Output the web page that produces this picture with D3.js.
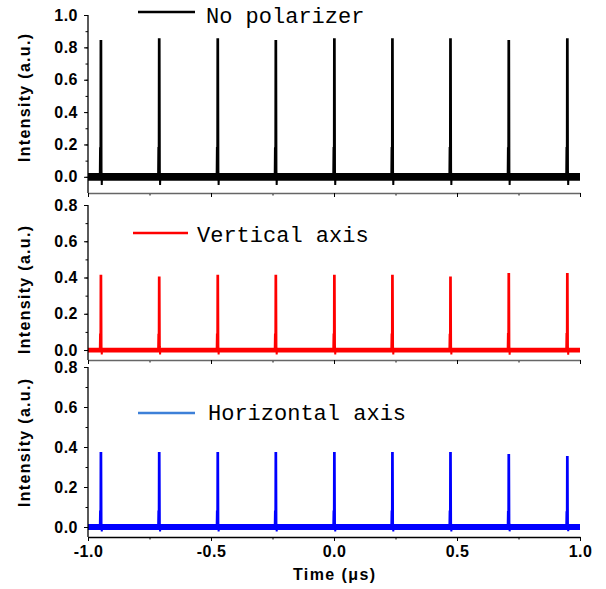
<!DOCTYPE html>
<html>
<head>
<meta charset="utf-8">
<script src="https://cdn.jsdelivr.net/npm/d3@7"></script>
<style>
  body { margin: 0; background: #fff; }
  .tick text { font-family: "Liberation Sans", Arial, sans-serif; font-weight: bold; font-size: 16px; letter-spacing: 0.5px; fill: #000; }
  .ytitle, .xtitle { font-family: "Liberation Sans", Arial, sans-serif; font-weight: bold; font-size: 16px; fill: #000; }
  .legend { font-family: "Liberation Mono", "DejaVu Sans Mono", monospace; font-size: 22px; fill: #000; }
</style>
</head>
<body>
<div id="canvas"></div>
<script>
// pulse arrival times (us), same for every trace
const peakTimes = [-0.947, -0.710, -0.472, -0.236, 0.002, 0.238, 0.474, 0.711, 0.949];

// peak intensities
const noPolPeaks = [0.84, 0.85, 0.85, 0.84, 0.85, 0.85, 0.85, 0.84, 0.85];
const verticalPeaks = [0.41, 0.40, 0.41, 0.41, 0.41, 0.41, 0.40, 0.42, 0.42];
const horizontalPeaks = [0.37, 0.37, 0.37, 0.37, 0.37, 0.37, 0.37, 0.36, 0.35];

// half-width of baseline noise band per trace
const noiseBand = [0.024, 0.013, 0.015];

// shape of one pulse: [time offset (us), fraction of peak]
const pulseShape = [[-0.005, 0], [-0.004, 0.21], [-0.0025, 0.21], [-0.002, 1], [0.001, 1], [0.002, 0.05], [0.003, -0.06], [0.004, 0]];

const legendLabels = ["No polarizer", "Vertical axis", "Horizontal axis"];
const yTicksTop = [0, 0.2, 0.4, 0.6, 0.8, 1.0];
const yTicksLow = [0, 0.2, 0.4, 0.6, 0.8];
const xTicks = [-1.0, -0.5, 0.0, 0.5, 1.0];

const width = 606;
const height = 589;
const margin = { left: 88, right: 26 };

const fmt = d => d3.format(".1f")(d).replace("\u2212", "-");

const svg = d3.select("#canvas").append("svg")
  .attr("width", width).attr("height", height)
  .attr("viewBox", [0, 0, width, height]);

const x = d3.scaleLinear().domain([-1, 1]).range([margin.left, width - margin.right]);

const panels = [
  { peaks: noPolPeaks, domain: [-0.1, 1.0], range: [193, 15], ticks: yTicksTop, color: "#000000", legendColor: "#000000",
    band: noiseBand[0], label: legendLabels[0], titleY: 98, legend: { x1: 138, x2: 195, y: 12, tx: 206, ty: 23 }, axisColor: "#666" },
  { peaks: verticalPeaks, domain: [-0.055, 0.8], range: [360, 205], ticks: yTicksLow, color: "#ff0000", legendColor: "#ff0000",
    band: noiseBand[1], label: legendLabels[1], titleY: 290, legend: { x1: 133, x2: 188, y: 233, tx: 197, ty: 242 }, axisColor: "#666" },
  { peaks: horizontalPeaks, domain: [-0.05, 0.8], range: [537, 367], ticks: yTicksLow, color: "#0000ff", legendColor: "#3d80d8",
    band: noiseBand[2], label: legendLabels[2], titleY: 443, legend: { x1: 138, x2: 195, y: 413, tx: 208, ty: 420 }, axisColor: "#000" }
];

panels.forEach((p, i) => {
  const y = d3.scaleLinear().domain(p.domain).range(p.range);
  const g = svg.append("g");

  // baseline noise band
  g.append("path")
    .datum([-1, 1])
    .attr("fill", p.color)
    .attr("d", d3.area().x(d => x(d)).y0(y(-p.band)).y1(y(p.band)));

  // pulse train
  const pts = [[-1, 0]];
  p.peaks.forEach((h, k) => {
    pulseShape.forEach(s => pts.push([peakTimes[k] + s[0], h * s[1]]));
  });
  pts.push([1, 0]);
  g.append("path")
    .datum(pts)
    .attr("fill", "none")
    .attr("stroke", p.color)
    .attr("stroke-width", 2)
    .attr("d", d3.line().x(d => x(d[0])).y(d => y(d[1])));

  // y axis: major + minor ticks
  const minor = d3.range(0, p.ticks[p.ticks.length - 1] + 0.001, 0.1);
  g.append("g")
    .attr("transform", `translate(${margin.left},0)`)
    .call(d3.axisLeft(y).tickValues(minor).tickSize(2.5).tickSizeOuter(0).tickFormat(""))
    .call(a => a.select(".domain").remove());
  g.append("g")
    .attr("transform", `translate(${margin.left},0)`)
    .call(d3.axisLeft(y).tickValues(p.ticks).tickSize(4).tickSizeOuter(0).tickPadding(6).tickFormat(fmt))
    .call(a => a.select(".domain").attr("d", `M0,${p.range[0]}V${p.range[1]}`).attr("stroke-width", 1.3));

  // x axis at bottom of panel
  const bottom = p.range[0];
  g.append("g")
    .attr("transform", `translate(0,${bottom})`)
    .call(d3.axisBottom(x).tickValues(d3.range(-0.75, 1, 0.5)).tickSize(2.5).tickSizeOuter(0).tickFormat(""))
    .call(a => a.select(".domain").remove());
  const xa = g.append("g")
    .attr("transform", `translate(0,${bottom})`)
    .call(d3.axisBottom(x).tickValues(xTicks).tickSize(4).tickSizeOuter(0).tickPadding(5)
      .tickFormat(i === 2 ? fmt : ""));
  xa.select(".domain").attr("stroke", p.axisColor).attr("stroke-width", 1.3);

  // y title
  svg.append("text")
    .attr("class", "ytitle")
    .attr("transform", `translate(30,${p.titleY}) rotate(-90)`)
    .attr("text-anchor", "middle")
    .attr("textLength", 128)
    .attr("lengthAdjust", "spacing")
    .text("Intensity (a.u.)");

  // legend
  svg.append("line")
    .attr("x1", p.legend.x1).attr("x2", p.legend.x2)
    .attr("y1", p.legend.y).attr("y2", p.legend.y)
    .attr("stroke", p.legendColor).attr("stroke-width", 2.5);
  svg.append("text")
    .attr("class", "legend")
    .attr("x", p.legend.tx).attr("y", p.legend.ty)
    .text(p.label);
});

svg.append("text")
  .attr("class", "xtitle")
  .attr("x", x(0)).attr("y", 580)
  .attr("text-anchor", "middle")
  .attr("textLength", 82)
  .attr("lengthAdjust", "spacing")
  .text("Time (\u03bcs)");
</script>
</body>
</html>
